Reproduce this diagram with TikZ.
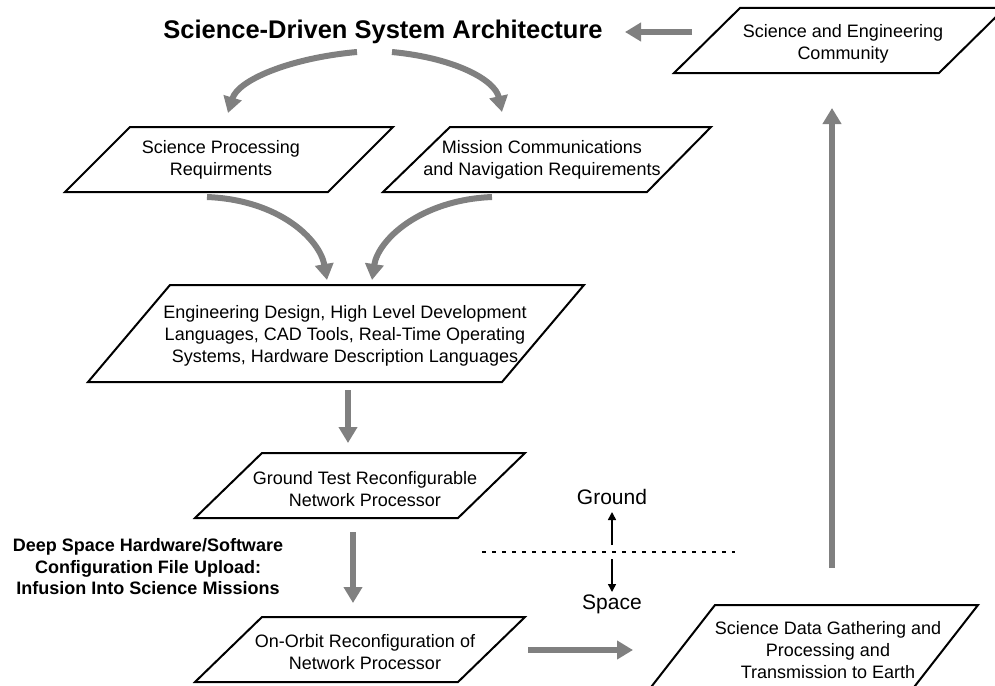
\documentclass[tikz,border=0pt]{standalone}
\usepackage{fontspec}
\setmainfont{Liberation Sans}
\usetikzlibrary{arrows.meta}
\definecolor{arrgray}{HTML}{808080}
\tikzset{
  box/.style={draw=black, line width=2pt, line join=miter},
  txt/.style={align=center, font=\fontsize{18}{22}\selectfont, inner sep=0pt},
  btxt/.style={align=center, font=\fontsize{18}{21.5}\selectfont\bfseries, inner sep=0pt},
  garrow/.style={draw=arrgray, line width=6pt, -{Triangle[length=16pt,width=18pt]}},
  karrow/.style={draw=black, line width=1.5pt, -{Triangle[length=8pt,width=8pt]}},
}
\begin{document}
\begin{tikzpicture}[x=1pt,y=-1pt]
\useasboundingbox (0,0) rectangle (995,685);
\clip (0,0) rectangle (995,685);
\fill[white] (0,0) rectangle (995,685);

% boxes
\draw[box] (740,8) -- (1005,8) -- (939,73) -- (674,73) -- cycle;
\draw[box] (130,127) -- (393,127) -- (328,192) -- (65,192) -- cycle;
\draw[box] (450,127) -- (711,127) -- (647,192) -- (383,192) -- cycle;
\draw[box] (170,285) -- (584,285) -- (502,382) -- (88,382) -- cycle;
\draw[box] (262,453) -- (525,453) -- (458,518) -- (195,518) -- cycle;
\draw[box] (262,617) -- (525,617) -- (458,682) -- (195,682) -- cycle;
\draw[box] (715,605) -- (978,605) -- (904,700) -- (641,700) -- cycle;

% texts
\node[font=\fontsize{25.5}{30}\selectfont\bfseries, inner sep=0pt] (title) at (383,32) {Science-Driven System Architecture};
\node[txt] (comm) at (843,44) {Science and Engineering\\Community};
\node[txt] (spr) at (221,160) {Science Processing\\Requirments};
\node[txt] (mcn) at (542,160) {Mission Communications\\and Navigation Requirements};
\node[txt] (eng) at (345,336) {Engineering Design, High Level Development\\Languages, CAD Tools, Real-Time Operating\\Systems, Hardware Description Languages};
\node[txt] (gtr) at (365,489) {Ground Test Reconfigurable\\Network Processor};
\node[txt] (oor) at (365,652) {On-Orbit Reconfiguration of\\Network Processor};
\node[txt] (sdg) at (828,650) {Science Data Gathering and\\Processing and\\Transmission to Earth};
\node[btxt] (dsh) at (148,567) {Deep Space Hardware/Software\\Configuration File Upload:\\Infusion Into Science Missions};
\node[font=\fontsize{21}{25}\selectfont, inner sep=0pt] (gnd) at (612,497) {Ground};
\node[font=\fontsize{21}{25}\selectfont, inner sep=0pt] (spc) at (612,604) {Space};

% connector end points
\coordinate (c1) at (692,32);  \coordinate (c2) at (625,32);
\coordinate (t1) at (357,52);  \coordinate (t2) at (228,113);
\coordinate (t3) at (392,52);  \coordinate (t4) at (502,112);
\coordinate (s1) at (207,197); \coordinate (s2) at (327,280);
\coordinate (m1) at (492,197); \coordinate (m2) at (372,280);
\coordinate (e1) at (348,390); \coordinate (e2) at (348,443);
\coordinate (g1) at (353,532); \coordinate (g2) at (353,603);
\coordinate (o1) at (528,650); \coordinate (o2) at (633,650);
\coordinate (d1) at (832,568); \coordinate (d2) at (832,108);
\coordinate (l1) at (482,552); \coordinate (l2) at (735,552);
\coordinate (u1) at (612,545); \coordinate (u2) at (612,512);
\coordinate (w1) at (612,559); \coordinate (w2) at (612,592);

% gray arrows
\draw[garrow] (c1) -- (c2);
\draw[garrow] (t1) .. controls (290,58) and (238,80) .. (t2);
\draw[garrow] (t3) .. controls (455,58) and (495,80) .. (t4);
\draw[garrow] (s1) .. controls (280,200) and (320,240) .. (s2);
\draw[garrow] (m1) .. controls (420,200) and (378,240) .. (m2);
\draw[garrow] (e1) -- (e2);
\draw[garrow] (g1) -- (g2);
\draw[garrow] (o1) -- (o2);
\draw[garrow] (d1) -- (d2);

% ground / space divider
\draw[black, line width=1.5pt, dash pattern=on 4pt off 6pt] (l1) -- (l2);
\draw[karrow] (u1) -- (u2);
\draw[karrow] (w1) -- (w2);
\end{tikzpicture}
\end{document}
